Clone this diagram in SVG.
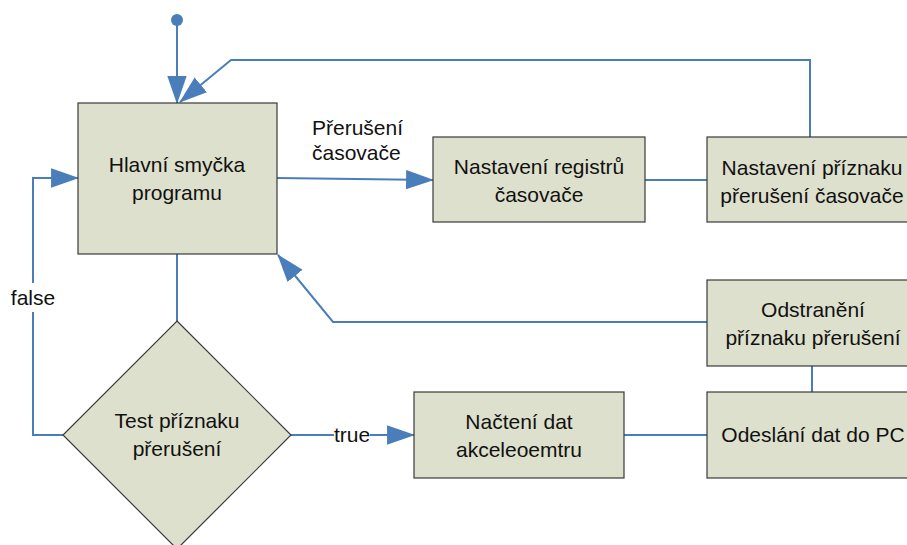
<svg xmlns="http://www.w3.org/2000/svg" width="907" height="545" viewBox="0 0 907 545">
<style>
.box{fill:#dde0cc;stroke:#3a3a3a;stroke-width:1.2}
.c{fill:none;stroke:#4a7ebb;stroke-width:2}
.ca{fill:none;stroke:#4a7ebb;stroke-width:2;marker-end:url(#ah)}
text{font-family:"Liberation Sans",Arial,sans-serif;font-size:21px;fill:#111}
.m{text-anchor:middle}
</style>
<defs>
<marker id="ah" markerUnits="userSpaceOnUse" markerWidth="28" markerHeight="20" viewBox="0 0 26 18" refX="25" refY="9" orient="auto">
<path d="M0,0 L26,9 L0,18 z" fill="#4a7ebb"/>
</marker>
</defs>
<g id="connectors">
<circle cx="177" cy="20" r="6" fill="#4a7ebb"/>
<path class="ca" d="M177,20 V103"/>
<path class="ca" d="M810,137 V60 H231 L180,102"/>
<path class="ca" d="M277,178 L433,180"/>
<path class="c" d="M645,180 H707"/>
<path class="ca" d="M707,322 H333 L278,255"/>
<path class="c" d="M812,366 V392"/>
<path class="c" d="M624,435 H707"/>
<path class="c" d="M177,254 V321"/>
<path class="c" d="M63,435 H33 V312"/>
<path class="ca" d="M33,283 V178 H78"/>
<path class="c" d="M291,435 H334"/>
<path class="ca" d="M370,435 H414"/>
<text x="312" y="135">Přerušení</text>
<text x="312" y="160">časovače</text>
<text class="m" x="33" y="305">false</text>
<text class="m" x="352" y="442">true</text>
</g>
<g id="main">
<rect class="box" x="78" y="103" width="199" height="151"/>
<text class="m" x="177" y="172">Hlavní smyčka</text>
<text class="m" x="177" y="200">programu</text>
</g>
<g id="registry">
<rect class="box" x="433" y="137" width="212" height="85"/>
<text class="m" x="539" y="174">Nastavení registrů</text>
<text class="m" x="539" y="202">časovače</text>
</g>
<g id="priznak">
<rect class="box" x="707" y="137" width="212" height="85"/>
<text class="m" x="812" y="175">Nastavení příznaku</text>
<text class="m" x="812" y="203">přerušení časovače</text>
</g>
<g id="odstraneni">
<rect class="box" x="707" y="280" width="212" height="86"/>
<text class="m" x="813" y="317">Odstranění</text>
<text class="m" x="813" y="345">příznaku přerušení</text>
</g>
<g id="odeslani">
<rect class="box" x="707" y="392" width="212" height="86"/>
<text class="m" x="813" y="442">Odeslání dat do PC</text>
</g>
<g id="nacteni">
<rect class="box" x="414" y="392" width="210" height="86"/>
<text class="m" x="519" y="429">Načtení dat</text>
<text class="m" x="519" y="457">akceleoemtru</text>
</g>
<g id="test">
<path class="box" d="M177,321 L291,435 L177,549 L63,435 Z"/>
<text class="m" x="177" y="428">Test příznaku</text>
<text class="m" x="177" y="456">přerušení</text>
</g>
</svg>
